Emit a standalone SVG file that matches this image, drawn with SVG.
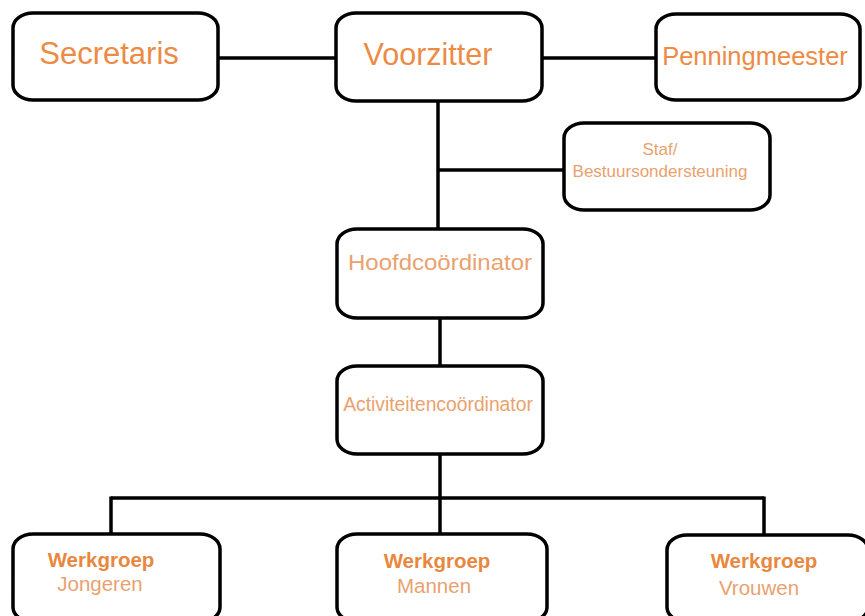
<svg xmlns="http://www.w3.org/2000/svg" width="865" height="616" viewBox="0 0 865 616">
<style>
.box{fill:#fff;stroke:#000;stroke-width:3.5}
.ln{stroke:#000;stroke-width:3.5;fill:none}
.t{font-family:"Liberation Sans",Arial,sans-serif;fill:#EC8B45;text-anchor:middle}
.s{fill:#E9A26F}
.b{font-weight:bold;fill:#E8883F}
</style>
<rect width="865" height="616" fill="#fff"/>
<g id="connectors">
<line class="ln" x1="218" y1="58" x2="336" y2="58"/>
<line class="ln" x1="542" y1="58" x2="656" y2="58"/>
<line class="ln" x1="438" y1="101" x2="438" y2="229"/>
<line class="ln" x1="438" y1="170" x2="564" y2="170"/>
<line class="ln" x1="440" y1="318" x2="440" y2="366"/>
<line class="ln" x1="440" y1="454" x2="440" y2="534"/>
<line class="ln" x1="111" y1="498" x2="764" y2="498"/>
<line class="ln" x1="111" y1="496.5" x2="111" y2="534"/>
<line class="ln" x1="764" y1="496.5" x2="764" y2="535"/>
</g>
<g id="secretaris">
<rect class="box" x="13" y="13" width="205" height="87" rx="20" ry="15"/>
<text class="t" x="109" y="64" font-size="31">Secretaris</text>
</g>
<g id="voorzitter">
<rect class="box" x="336" y="13" width="206" height="88" rx="20" ry="15"/>
<text class="t" x="428" y="65" font-size="30.5">Voorzitter</text>
</g>
<g id="penningmeester">
<rect class="box" x="656" y="14" width="204" height="86" rx="20" ry="15"/>
<text class="t" x="755" y="65" font-size="25.5">Penningmeester</text>
</g>
<g id="staf">
<rect class="box" x="564" y="123" width="206" height="87" rx="20" ry="15"/>
<text class="t s" x="660" y="155" font-size="17">Staf/</text>
<text class="t s" x="660" y="177" font-size="17">Bestuursondersteuning</text>
</g>
<g id="hoofdcoordinator">
<rect class="box" x="337" y="229" width="206" height="89" rx="20" ry="15"/>
<text class="t s" x="440" y="270" font-size="22" font-family="'Open Sans',sans-serif" textLength="184" lengthAdjust="spacingAndGlyphs">Hoofdcoördinator</text>
</g>
<g id="activiteitencoordinator">
<rect class="box" x="337" y="366" width="206" height="88" rx="20" ry="15"/>
<text class="t s" x="438" y="411" font-size="19.3">Activiteitencoördinator</text>
</g>
<g id="jongeren">
<rect class="box" x="13" y="534" width="207" height="88" rx="20" ry="15"/>
<text class="t b" x="101" y="567" font-size="20.5">Werkgroep</text>
<text class="t s" x="100" y="591" font-size="20.5">Jongeren</text>
</g>
<g id="mannen">
<rect class="box" x="337" y="534" width="210" height="88" rx="20" ry="15"/>
<text class="t b" x="437" y="568" font-size="20.5">Werkgroep</text>
<text class="t s" x="434" y="593" font-size="20.5">Mannen</text>
</g>
<g id="vrouwen">
<rect class="box" x="667" y="535" width="201" height="87" rx="20" ry="15"/>
<text class="t b" x="764" y="568" font-size="20.5">Werkgroep</text>
<text class="t s" x="759" y="595" font-size="20.5">Vrouwen</text>
</g>
</svg>
